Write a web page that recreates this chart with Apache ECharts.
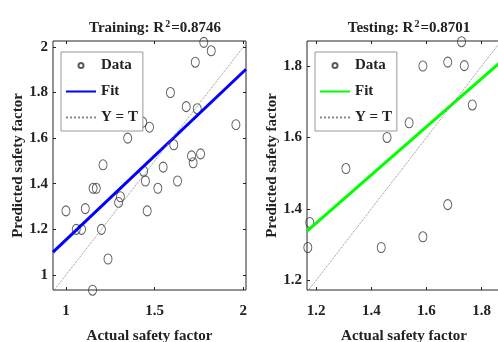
<!DOCTYPE html>
<html>
<head>
<meta charset="utf-8">
<script src="https://cdn.jsdelivr.net/npm/echarts@6/dist/echarts.min.js"></script>
<style>
  html, body { margin: 0; padding: 0; background: #fff; }
  #chart { width: 498px; height: 342px; }
</style>
</head>
<body>
<div id="chart"></div>
<script>
// training set: actual vs predicted safety factor
const trainActual = [1.777, 1.819, 1.729, 1.589, 1.678, 1.740, 1.958, 1.433, 1.471, 1.348, 1.608,
  1.708, 1.759, 1.717, 1.548, 1.209, 1.438, 1.448, 1.518, 1.629, 1.153, 1.171, 1.000, 1.109,
  1.307, 1.297, 1.458, 1.058, 1.088, 1.200, 1.237, 1.150];
const trainPred = [2.020, 1.983, 1.933, 1.800, 1.738, 1.729, 1.659, 1.670, 1.648, 1.600, 1.571,
  1.522, 1.531, 1.492, 1.473, 1.483, 1.455, 1.412, 1.380, 1.412, 1.380, 1.380, 1.281, 1.291,
  1.343, 1.318, 1.281, 1.200, 1.200, 1.200, 1.070, 0.933];
// testing set
const testActual = [1.727, 1.587, 1.677, 1.737, 1.766, 1.537, 1.457, 1.308, 1.177, 1.170, 1.436, 1.587, 1.677];
const testPred = [1.868, 1.800, 1.811, 1.801, 1.691, 1.641, 1.600, 1.513, 1.362, 1.292, 1.292, 1.322, 1.412];

// fitted lines (end points) and Y = T lines
const trainFit = [[0.927, 1.100], [2.015, 1.902]];
const testFit = [[1.167, 1.338], [1.870, 1.812]];
const trainYT = [[0.927, 0.927], [2.026, 2.026]];
const testYT = [[1.167, 1.167], [1.870, 1.870]];

const trainR2 = '0.8746';
const testR2 = '0.8701';

// axis limits and tick labels
const trainXRange = [0.927, 2.015];
const trainYRange = [0.934, 2.026];
const testXRange = [1.167, 1.870];
const testYRange = [1.173, 1.870];
const trainXTicks = [1, 1.5, 2];
const trainYTicks = [1, 1.2, 1.4, 1.6, 1.8, 2];
const testXTicks = [1.2, 1.4, 1.6, 1.8];
const testYTicks = [1.2, 1.4, 1.6, 1.8];

const font = "'Liberation Serif', 'Times New Roman', serif";
const ink = '#222';
const legendNames = { Data1: 'Data', Fit1: 'Fit', YT1: 'Y = T', Data2: 'Data', Fit2: 'Fit', YT2: 'Y = T' };

function pairs(xs, ys) {
  return xs.map((x, i) => [x, ys[i]]);
}

function xAxes(grid, range, ticks) {
  return [
    {
      type: 'value', gridIndex: grid, position: 'bottom', min: range[0], max: range[1],
      name: 'Actual safety factor', nameLocation: 'middle', nameGap: 39,
      nameTextStyle: { fontFamily: font, fontWeight: 'bold', fontSize: 15, color: ink },
      axisLine: { show: false },
      axisTick: { inside: true, length: 3, customValues: ticks, lineStyle: { color: ink } },
      axisLabel: { customValues: ticks, margin: 14, fontFamily: font, fontWeight: 'bold', fontSize: 15, color: ink },
      splitLine: { show: false }
    },
    {
      type: 'value', gridIndex: grid, position: 'top', min: range[0], max: range[1],
      axisLine: { show: false },
      axisTick: { inside: true, length: 3, customValues: ticks, lineStyle: { color: ink } },
      axisLabel: { show: false },
      splitLine: { show: false }
    }
  ];
}

function yAxes(grid, range, ticks, gap) {
  return [
    {
      type: 'value', gridIndex: grid, position: 'left', min: range[0], max: range[1],
      name: 'Predicted safety factor', nameLocation: 'middle', nameGap: gap,
      nameTextStyle: { fontFamily: font, fontWeight: 'bold', fontSize: 15, color: ink },
      axisLine: { show: false },
      axisTick: { inside: true, length: 3, customValues: ticks, lineStyle: { color: ink } },
      axisLabel: { customValues: ticks, margin: 5, fontFamily: font, fontWeight: 'bold', fontSize: 15, color: ink },
      splitLine: { show: false }
    },
    {
      type: 'value', gridIndex: grid, position: 'right', min: range[0], max: range[1],
      axisLine: { show: false },
      axisTick: { inside: true, length: 3, customValues: ticks, lineStyle: { color: ink } },
      axisLabel: { show: false },
      splitLine: { show: false }
    }
  ];
}

function legend(left, names) {
  return {
    orient: 'vertical', left: left, top: 52,
    padding: [6, 5, 6, 4],
    itemWidth: 30, itemHeight: 5, itemGap: 11,
    selectedMode: false,
    backgroundColor: '#fff', borderColor: '#999', borderWidth: 1,
    textStyle: { fontFamily: font, fontWeight: 'bold', fontSize: 15, color: ink, lineHeight: 14 },
    data: names,
    formatter: name => legendNames[name]
  };
}

function scatter(name, axis, data) {
  return {
    name: name, type: 'scatter', xAxisIndex: axis, yAxisIndex: axis,
    data: data, symbol: 'circle', symbolSize: [8, 10], clip: false,
    itemStyle: { color: 'rgba(0,0,0,0)', borderColor: '#333', borderWidth: 1 }
  };
}

function line(name, axis, data, color, width, type) {
  return {
    name: name, type: 'line', xAxisIndex: axis, yAxisIndex: axis,
    data: data, symbol: 'none', showSymbol: false, silent: true,
    itemStyle: { color: color, opacity: 0 },
    lineStyle: { color: color, width: width, type: type, opacity: 1 }
  };
}

const chart = echarts.init(document.getElementById('chart'), null, { renderer: 'canvas' });

const titleStyle = {
  fontFamily: font, fontWeight: 'bold', fontSize: 15, color: ink,
  rich: { s: { fontFamily: font, fontWeight: 'bold', fontSize: 10, color: ink, verticalAlign: 'top', padding: [0, 1, 8, 1] } }
};

chart.setOption({
  backgroundColor: '#fff',
  animation: false,
  title: [
    { text: 'Training: R{s|2}=' + trainR2, left: 150, top: 14, textAlign: 'center', textStyle: titleStyle },
    { text: 'Testing: R{s|2}=' + testR2, left: 404, top: 14, textAlign: 'center', textStyle: titleStyle }
  ],
  grid: [
    { left: 53, top: 41, width: 193, height: 249, outerBoundsMode: 'none', containLabel: false,
      show: true, borderColor: '#262626', borderWidth: 1, backgroundColor: 'transparent' },
    { left: 307, top: 41, width: 194, height: 249, outerBoundsMode: 'none', containLabel: false,
      show: true, borderColor: '#262626', borderWidth: 1, backgroundColor: 'transparent' }
  ],
  xAxis: xAxes(0, trainXRange, trainXTicks).concat(xAxes(1, testXRange, testXTicks)),
  yAxis: yAxes(0, trainYRange, trainYTicks, 21).concat(yAxes(1, testYRange, testYTicks, 27)),
  legend: [
    legend(61, ['Data1', 'Fit1', 'YT1']),
    legend(315, ['Data2', 'Fit2', 'YT2'])
  ],
  series: [
    scatter('Data1', 0, pairs(trainActual, trainPred)),
    line('Fit1', 0, trainFit, '#0000ff', 3, 'solid'),
    line('YT1', 0, trainYT, '#888', 1, 'dotted'),
    scatter('Data2', 2, pairs(testActual, testPred)),
    line('Fit2', 2, testFit, '#00ff00', 3, 'solid'),
    line('YT2', 2, testYT, '#888', 1, 'dotted')
  ]
});
</script>
</body>
</html>
